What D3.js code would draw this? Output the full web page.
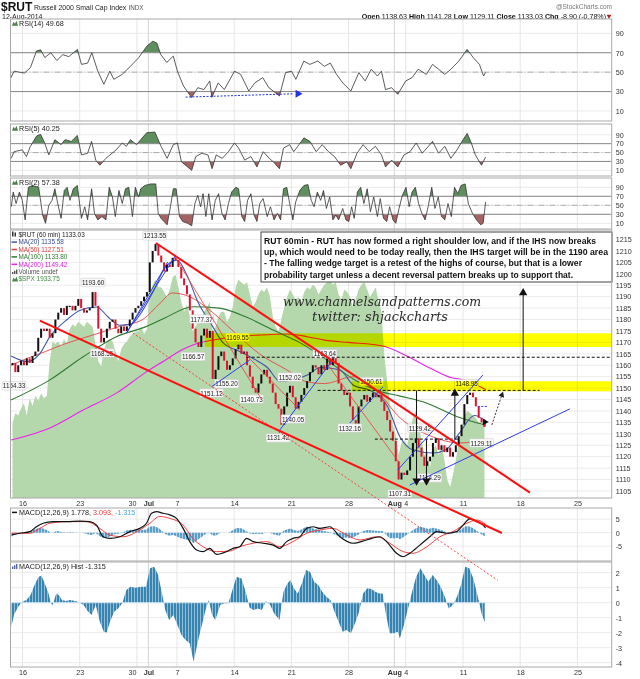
<!DOCTYPE html>
<html>
<head>
<meta charset="utf-8">
<title>$RUT 60 min</title>
<script src="https://d3js.org/d3.v7.min.js"></script>
<style>
  body { margin: 0; background: #fff; }
  svg { display: block; font-family: "Liberation Sans", Arial, sans-serif; }
</style>
</head>
<body>
<div id="chart"></div>
<script>
// ********** DATA **********

// trading sessions, in trading days counted from Mon 16 Jun (Jul 3 is a half day)
const sessionDays = [-1, 0, 1, 2, 3, 4, 5, 6, 7, 8, 9, 10, 11, 12, 13, 13.5, 14.5, 15.5, 16.5, 17.5,
  18.5, 19.5, 20.5, 21.5, 22.5, 23.5, 24.5, 25.5, 26.5, 27.5, 28.5, 29.5, 30.5, 31.5, 32.5, 33.5,
  34.5, 35.5, 36.5, 37.5, 38.5, 39.5];

// $RUT 60 min closes (a few per session)
const rutFirstOpen = 1160;
const rutCloses = [
  [1161, 1157, 1160, 1162], [1160, 1163, 1161, 1164], [1166, 1172, 1176, 1175], [1176, 1172, 1174, 1180],
  [1183, 1185, 1182, 1186], [1186, 1184, 1186, 1189], [1185, 1183, 1184, 1185], [1192, 1186, 1176, 1170],
  [1172, 1176, 1179, 1180], [1176, 1174, 1177, 1175], [1177, 1180, 1183, 1185], [1186, 1188, 1190, 1192],
  [1205, 1210, 1213, 1208], [1205, 1201, 1204, 1203], [1207, 1206], [1203, 1198, 1195, 1191],
  [1184, 1176, 1170, 1168], [1173, 1176, 1172, 1175], [1154, 1158, 1164, 1166], [1162, 1158, 1160, 1163],
  [1167, 1169, 1165, 1166], [1160, 1155, 1150, 1148], [1152, 1156, 1158, 1155], [1152, 1148, 1143, 1141],
  [1134, 1142, 1148, 1151], [1146, 1141, 1144, 1147], [1150, 1153, 1157, 1160], [1159, 1156, 1160, 1158],
  [1163, 1160, 1164, 1161], [1152, 1149, 1147, 1148], [1142, 1136, 1134, 1142], [1145, 1147, 1144, 1146],
  [1148, 1146, 1147, 1144], [1140, 1136, 1131, 1127], [1118, 1110, 1113, 1112], [1114, 1120, 1126, 1128],
  [1124, 1120, 1116, 1118], [1120, 1126, 1128, 1123], [1125, 1122, 1124, 1120], [1122, 1125, 1129, 1134],
  [1143, 1147, 1148, 1146], [1142, 1137, 1135, 1133]
];

// $SPX overlay (green area)
const spxCloses = [
  [1933, 1937, 1936, 1939], [1941, 1936, 1943, 1940], [1944, 1942, 1945, 1943], [1944, 1958, 1966, 1965],
  [1966, 1964, 1967, 1965], [1971, 1973, 1972, 1974], [1973, 1972, 1974, 1973], [1972, 1965, 1958, 1956],
  [1963, 1966, 1967, 1966], [1962, 1958, 1963, 1965], [1966, 1968, 1969, 1970], [1970, 1972, 1969, 1971],
  [1985, 1989, 1991, 1988], [1988, 1986, 1984, 1987], [1992, 1993], [1988, 1982, 1978, 1981],
  [1976, 1970, 1972, 1974], [1974, 1978, 1980, 1982], [1970, 1972, 1976, 1978], [1978, 1974, 1976, 1980],
  [1988, 1991, 1990, 1989], [1990, 1985, 1980, 1982], [1985, 1987, 1986, 1988], [1984, 1976, 1972, 1970],
  [1975, 1980, 1984, 1987], [1985, 1983, 1984, 1982], [1986, 1988, 1987, 1989], [1988, 1985, 1987, 1989],
  [1990, 1991, 1989, 1990], [1985, 1983, 1987, 1986], [1984, 1980, 1983, 1987], [1989, 1990, 1987, 1984],
  [1986, 1988, 1982, 1978], [1960, 1950, 1940, 1932], [1928, 1920, 1925, 1926], [1924, 1930, 1935, 1938],
  [1932, 1926, 1920, 1922], [1915, 1922, 1924, 1920], [1925, 1918, 1910, 1907], [1912, 1918, 1925, 1931],
  [1936, 1938, 1937, 1936], [1935, 1933, 1932, 1934]
];

// moving averages [day, value]
const ma20 = [[-1, 1164], [0.4, 1161.6], [1.5, 1165], [2.4, 1172.5], [3.9, 1180], [5, 1184], [6.5, 1185.5],
  [7.5, 1181], [8.5, 1177.5], [9.5, 1178], [10.5, 1184], [11.5, 1193], [12.5, 1203], [13.5, 1206], [14.5, 1198],
  [15.3, 1188], [16.5, 1178], [17.5, 1170], [19, 1166], [20.5, 1162], [21.4, 1159], [22.5, 1153], [23.6, 1153.6],
  [25, 1156], [26, 1159], [27.7, 1158], [29, 1151], [30.4, 1149], [31.9, 1142], [33, 1128.6], [34.1, 1123],
  [35.9, 1121.6], [37, 1123], [38.2, 1130.4], [39.5, 1138], [40.5, 1135.58]];
const ma50 = [[-1, 1160], [0.4, 1163], [2, 1166], [3.5, 1169], [6, 1173], [8.5, 1177], [10.5, 1180], [12, 1187],
  [13.1, 1191.6], [14.6, 1190], [16.4, 1184], [18.4, 1175], [20.7, 1165], [23.1, 1158], [24.9, 1152.7],
  [26.4, 1152], [28.9, 1155], [30.9, 1149], [33, 1137], [35.9, 1128.6], [38.2, 1126], [40.5, 1127.51]];
const ma100 = [[-1, 1144.8], [2.4, 1153.6], [5.3, 1163.7], [8.2, 1172.5], [10.8, 1176.9], [12.4, 1180.6],
  [14.9, 1185.6], [17.2, 1185], [19.6, 1181], [21.9, 1175.4], [24.2, 1170], [26.4, 1163], [28.9, 1154],
  [31, 1149], [33, 1146.5], [35.3, 1143.5], [38, 1137.5], [40.5, 1133.8]];
const ma200 = [[-1, 1127.3], [2.4, 1132.6], [5.3, 1140.4], [8.2, 1147.8], [10.8, 1157], [12.4, 1162],
  [13.9, 1166.7], [14.9, 1168.9], [17.9, 1172], [20.7, 1173.2], [23.1, 1173.7], [24.9, 1172.5], [26.4, 1171],
  [28.5, 1170], [31.5, 1168.4], [33.6, 1164], [35.6, 1158.8], [37.6, 1154.4], [38.2, 1154], [40.5, 1149.42]];

// RSI series [day, value]
const rsi14 = [[-1.09, 42.6], [-0.73, 51], [0.16, 49], [0.69, 54.6], [1.22, 71.7], [1.58, 73], [1.95, 65],
  [2.47, 70], [3.0, 62], [3.52, 68], [4.05, 66], [4.8, 73.4], [5.15, 58], [5.69, 59.3], [6.06, 70], [6.58, 51],
  [7.11, 37.5], [7.63, 51], [7.98, 42.6], [8.71, 47.7], [9.43, 56], [10.15, 64.8], [10.87, 76.8], [11.39, 81.9],
  [11.74, 80], [12.09, 68], [12.61, 60], [13.18, 66.5], [13.54, 51], [14.07, 35.7], [14.78, 23.8], [15.32, 34],
  [15.85, 32], [16.37, 40.9], [16.55, 24], [17.1, 39], [17.64, 32], [18.53, 51], [19.07, 47.7], [19.78, 30.6],
  [20.31, 39], [21.0, 44.3], [21.53, 34], [22.46, 25.5], [22.99, 49.5], [23.52, 51], [23.89, 42.6], [24.59, 61.4],
  [25.11, 58], [25.81, 61.4], [26.38, 56], [26.91, 59.3], [27.45, 47.7], [27.99, 39], [28.7, 30.6], [29.4, 49.5],
  [29.95, 41], [30.48, 53], [31.02, 46], [31.37, 51], [31.73, 32], [32.26, 34], [32.8, 27.2], [33.5, 41],
  [34.05, 44.3], [34.59, 53], [35.3, 47.7], [35.84, 58], [36.37, 53], [36.91, 47.7], [37.44, 53], [38.14, 61.4],
  [38.86, 73.4], [39.41, 64.8], [39.94, 58], [40.3, 46], [40.47, 49.68]];
const rsi5 = [[-0.985, 37], [-0.735, 52], [-0.02, 56], [0.34, 41], [0.69, 64], [1.23, 87], [1.58, 91],
  [1.94, 71.5], [2.30, 44.6], [2.83, 79], [3.37, 67.7], [3.72, 79], [4.26, 75], [4.79, 88.5], [5.15, 44.6],
  [5.69, 48.5], [6.04, 75], [6.40, 33], [6.76, 21.5], [7.29, 37], [7.83, 48.5], [8.18, 56], [8.72, 71.5],
  [9.08, 64], [9.43, 79], [9.97, 67.7], [10.33, 79], [10.86, 94.6], [11.57, 96], [12.11, 64], [12.64, 37],
  [13.18, 67.7], [13.54, 71.5], [13.89, 29.2], [14.43, 17.7], [14.79, 10], [15.14, 40.8], [15.68, 48.5],
  [16.21, 44.6], [16.57, 13.8], [16.93, 44.6], [17.46, 37], [18.0, 52], [18.53, 71.5], [18.89, 60], [19.42, 33],
  [19.96, 41], [20.49, 17.7], [21.03, 52], [21.57, 37], [21.92, 29.2], [22.46, 13.8], [22.81, 60], [23.35, 67.7],
  [23.71, 52], [24.06, 64], [24.6, 83], [25.13, 75], [25.67, 52], [26.2, 67.7], [26.74, 52], [27.27, 41],
  [27.81, 21.5], [28.34, 29.2], [28.7, 13.8], [29.24, 48.5], [29.77, 67.7], [30.31, 52], [30.84, 64],
  [31.38, 44.6], [31.73, 17.7], [32.27, 33], [32.8, 17.7], [33.34, 44.6], [33.87, 52], [34.41, 71.5],
  [34.94, 48.5], [35.48, 64], [35.84, 75], [36.37, 48.5], [36.91, 64], [37.44, 37], [37.98, 56], [38.51, 79],
  [38.87, 93], [39.23, 71.5], [39.58, 44.6], [40.12, 21.5], [40.48, 40.25]];
const rsi2 = [[-0.985, 46.7], [-0.81, 79.5], [-0.56, 54], [-0.27, 79.5], [-0.02, 61], [0.23, 17.6], [0.51, 90],
  [0.87, 94], [1.41, 90], [1.76, 28.5], [2.01, 10], [2.30, 50], [2.58, 61], [2.83, 86.7], [3.08, 54], [3.37, 21],
  [3.65, 83], [3.90, 90], [4.15, 61], [4.44, 86.7], [4.79, 94], [5.15, 21], [5.44, 46.7], [5.69, 17.6],
  [6.04, 86.7], [6.29, 32], [6.58, 17.6], [6.94, 25], [7.29, 17.6], [7.58, 90], [7.86, 68.5], [8.11, 25],
  [8.43, 83], [8.72, 54], [9.0, 86.7], [9.29, 90], [9.61, 25], [9.86, 90], [10.15, 68.5], [10.33, 86.7],
  [10.68, 94], [11.22, 97.5], [11.65, 97.5], [11.86, 32], [12.11, 21], [12.64, 6.7], [12.93, 46.7], [13.18, 86.7],
  [13.43, 86.7], [13.72, 25], [14.0, 14], [14.43, 10], [14.79, 4.5], [15.07, 54], [15.32, 72], [15.57, 46.7],
  [15.78, 75.8], [16.03, 25], [16.28, 75.8], [16.57, 17.6], [16.85, 61], [17.14, 75.8], [17.43, 32], [17.71, 17.6],
  [18.0, 54], [18.28, 79.5], [18.64, 90], [18.89, 86.7], [19.17, 25], [19.42, 14], [19.67, 61], [19.96, 75.8],
  [20.24, 28.5], [20.49, 14], [20.74, 54], [21.03, 65], [21.39, 25], [21.67, 46.7], [21.99, 17.6], [22.28, 32],
  [22.56, 17.6], [22.81, 86.7], [23.10, 90], [23.35, 54], [23.63, 17.6], [23.88, 57.6], [24.24, 83], [24.6, 94],
  [24.95, 96], [25.24, 61], [25.49, 46.7], [25.77, 79.5], [26.06, 61], [26.31, 83], [26.56, 43], [26.85, 68.5],
  [27.13, 17.6], [27.38, 28.5], [27.63, 17.6], [27.99, 43], [28.27, 17.6], [28.52, 14], [28.77, 46.7], [28.99, 21],
  [29.27, 79.5], [29.56, 90], [29.84, 54], [30.13, 86.7], [30.41, 36], [30.70, 68.5], [31.02, 25], [31.27, 65],
  [31.55, 21], [31.84, 14], [32.09, 46.7], [32.38, 17.6], [32.63, 10], [32.91, 43], [33.20, 72], [33.52, 90],
  [33.80, 46.7], [34.05, 79.5], [34.34, 90], [34.62, 54], [34.91, 32], [35.19, 17.6], [35.48, 50], [35.77, 90],
  [36.05, 43], [36.34, 68.5], [36.62, 25], [36.91, 17.6], [37.19, 54], [37.48, 25], [37.76, 90], [38.05, 75.8],
  [38.33, 94], [38.69, 97.5], [38.98, 52.5], [39.33, 32], [39.69, 17.6], [40.05, 6.7], [40.26, 10], [40.48, 57.38]];

// MACD(12,26,9) [day, value]
const macdLine = [[-0.96, -0.85], [-0.24, -0.2], [0.64, 0.4], [1.22, 2.2], [1.8, 3.5], [2.67, 4.1], [3.85, 4.1],
  [5.01, 4.3], [5.88, 4.1], [6.47, 2.8], [7.05, -1.5], [7.63, -2.1], [8.51, -1.5], [9.38, 0.4], [10.25, 1.6],
  [10.84, 3.5], [11.28, 7.2], [11.71, 7.8], [12.29, 7.2], [12.88, 6.6], [13.46, 5.3], [14.04, 1.6], [14.62, -3.3],
  [15.21, -6.4], [15.79, -7.0], [16.37, -5.8], [16.96, -8.0], [17.83, -7.0], [18.41, -5.8], [18.99, -5.2],
  [19.58, -2.1], [20.16, -3.3], [21.03, -3.9], [21.91, -4.6], [22.49, -5.8], [23.08, -3.3], [23.65, -2.1],
  [24.24, -1.5], [24.83, 1.6], [25.40, 2.2], [25.99, 1.6], [26.86, 2.2], [27.74, -1.5], [28.9, -3.9], [30.07, -2.7],
  [31.23, -1.5], [31.82, -3.3], [32.69, -7.6], [33.27, -8.9], [33.85, -7.6], [34.73, -4.6], [35.6, -1.5],
  [36.19, 0.4], [37.06, -0.2], [37.94, 0.4], [38.51, 2.8], [39.1, 5.1], [39.69, 4.3], [40.26, 2.8], [40.47, 1.778]];
const macdSignal = [[-0.96, -0.2], [0.64, -0.2], [1.51, 1.6], [2.39, 3.5], [3.85, 4.1], [5.59, 4.1], [6.76, 1.6],
  [7.63, -0.9], [8.77, -1.5], [10.25, 1.0], [11.13, 3.5], [12.0, 6.0], [12.88, 5.3], [14.04, 2.8], [14.89, -2.1],
  [15.79, -5.2], [16.98, -7.0], [18.12, -6.8], [18.99, -5.2], [20.16, -3.9], [21.36, -3.3], [22.49, -5.2],
  [23.65, -3.3], [24.85, -0.2], [25.99, 1.0], [27.12, 1.6], [28.35, -0.9], [29.48, -2.7], [30.97, -1.5],
  [32.1, -3.9], [33.27, -7.0], [34.12, -7.6], [35.34, -5.2], [36.48, -1.5], [37.61, 0.4], [38.84, 3.5],
  [39.71, 4.7], [40.5, 3.093]];
const macdHist = [[-0.98, -1.6], [-0.74, -0.8], [-0.38, -0.27], [-0.02, 0.07], [0.34, 0.18], [0.69, 0.5],
  [1.05, 1.18], [1.41, 1.73], [1.66, 1.8], [1.94, 1.29], [2.23, 0.73], [2.48, -0.04], [2.65, -0.15], [2.94, 0.62],
  [3.19, 0.5], [3.44, 0.18], [3.80, 0.11], [4.15, 0.18], [4.62, 0.11], [4.97, 0.02], [5.33, -0.15], [5.69, -0.55],
  [6.04, -0.82], [6.40, -0.15], [6.76, -1.27], [7.11, -1.93], [7.36, -1.98], [7.65, -1.27], [8.01, -0.6],
  [8.36, -0.38], [8.72, -0.04], [9.08, 0.84], [9.43, 1.07], [9.86, 1.0], [10.33, 1.07], [10.79, 1.07],
  [11.15, 2.29], [11.50, 2.4], [11.86, 1.84], [12.22, 0.51], [12.47, -0.49], [12.82, -1.16], [13.18, -0.82],
  [13.54, -1.49], [13.89, -2.16], [14.25, -2.49], [14.61, -2.71], [14.96, -3.93], [15.32, -2.6], [15.68, -1.49],
  [16.03, -0.38], [16.28, 0.18], [16.57, -0.82], [16.85, -1.16], [17.28, -0.15], [17.64, -0.04], [18.0, -0.04],
  [18.35, 0.84], [18.71, 1.73], [19.14, 1.62], [19.50, 0.73], [19.85, -0.33], [20.21, -0.49], [20.57, -0.38],
  [20.92, -0.49], [21.28, 0.11], [21.64, -0.15], [21.99, -0.71], [22.46, -1.16], [22.81, 0.73], [23.17, 1.29],
  [23.42, 1.51], [23.71, 0.96], [24.06, 0.62], [24.42, 1.29], [24.78, 2.18], [25.13, 2.07], [25.49, 1.4],
  [25.85, 1.18], [26.20, 0.73], [26.56, 0.4], [26.92, 0.18], [27.27, -0.6], [27.63, -1.27], [27.99, -1.93],
  [28.34, -1.82], [28.7, -2.04], [29.06, -1.38], [29.42, -0.6], [29.77, 0.62], [30.13, 0.96], [30.48, 0.91],
  [30.84, 0.73], [31.2, 0.62], [31.48, 0.62], [31.73, -0.6], [32.09, -2.04], [32.45, -2.04], [32.8, -1.93],
  [32.98, -2.38], [33.34, -1.49], [33.70, -0.38], [34.05, 0.73], [34.41, 1.73], [34.77, 2.29], [35.12, 1.84],
  [35.48, 1.4], [35.84, 1.84], [36.19, 1.51], [36.55, 1.07], [36.91, 0.4], [37.26, -0.38], [37.62, -0.15],
  [37.98, 0.4], [38.33, 1.18], [38.69, 2.4], [39.05, 2.29], [39.40, 1.62], [39.76, 0.51], [40.12, -0.71],
  [40.40, -1.315]];

// date axis
const dateTickDays = [0, 5, 10, 11, 13.5, 18.5, 23.5, 28.5, 32.5, 33.5, 38.5, 43.5, 48.5];
const dateTickLabels = ['16', '23', '30', 'Jul', '7', '14', '21', '28', 'Aug', '4', '11', '18', '25'];

// value axes
const priceTicks = d3.range(1105, 1216, 5);
const rsiTicks = [90, 70, 50, 30, 10];
const macdTicks = [5, 0, -5];
const histTicks = [2, 1, 0, -1, -2, -3, -4];

// high / low call-outs [text, day, price where the tag sits]
const priceTags = [['1213.55', 11.56, 1216.5], ['1193.60', 6.17, 1196.1], ['1168.55', 6.96, 1165.2],
  ['1154.33', -0.76, 1150.9], ['1177.37', 15.65, 1180.1], ['1169.55', 18.79, 1172.1], ['1166.57', 14.91, 1163.7],
  ['1163.64', 26.43, 1164.9], ['1151.12', 16.52, 1147.7], ['1155.20', 17.83, 1151.8], ['1140.73', 20.02, 1145.1],
  ['1152.02', 23.37, 1154.7], ['1131.42', 22.34, 1128.1], ['1140.05', 23.65, 1136.4], ['1150.61', 30.5, 1152.8],
  ['1132.16', 28.61, 1132.4], ['1148.95', 38.81, 1151.8], ['1129.42', 34.73, 1132.4], ['1114.29', 35.6, 1110.6],
  ['1107.31', 32.98, 1103.6], ['1129.11', 40.12, 1125.9]];

// annotations drawn on the price panel [day, price]
const targetZones = [[15.93, 1168, 1174], [28.8, 1148.6, 1153]];          // [from day, low, high]
const levelLines = [[19.6, 51.5, 1163.5], [25.8, 45.2, 1149], [30.8, 38.2, 1127.7]]; // [from, to, price]
const blueLevel = [[39.8, 1142], [40.6, 1142]];
const wedgeLines = [
  [[11.65, 1213.5], [44.35, 1104.3]],
  [[1.51, 1179.5], [41.9, 1086.6]]
];
const channelLine = [[9.63, 1174.1], [41.55, 1065.9]];
const thinRedLines = [
  [[13.31, 1207.6], [20.92, 1144.8]],
  [[18.71, 1168.8], [24.24, 1140.4]],
  [[26.57, 1161], [32.98, 1117]]
];
const blueLines = [
  [[9.09, 1174.1], [13.4, 1208.2]],
  [[9.09, 1174.1], [12.7, 1205.2]],
  [[16.52, 1150.6], [19.87, 1162.3]],
  [[22.49, 1131.7], [27.12, 1162.3]],
  [[28.61, 1134.7], [31.5, 1150.5]],
  [[32.8, 1114.2], [40.24, 1155.7]],
  [[33.85, 1107.6], [47.84, 1140.9]]
];
const measuredMoves = [[34.44, 1149, 1108.5], [35.31, 1127.7, 1108.5], [37.79, 1127.7, 1149], [43.76, 1149, 1193]];
const projectionArrow = [[41.02, 1133.9], [41.9, 1147]];
const rsiDivergence = [[14.25, 24.3], [24.07, 27.7]];

const noteLines = [
  'RUT 60min - RUT has now formed a right shoulder low, and if the IHS now breaks',
  'up, which would need to be today really, then the IHS target will be in the 1190 area',
  '- The falling wedge target is a retest of the highs of course, but that is a lower',
  'probability target unless a decent reversal pattern breaks up to support that.'
];

// ********** LAYOUT **********
const W = 640, H = 679;
const plotL = 10.5, plotR = 611.7;
const FONT = '"Liberation Sans", Arial, sans-serif';

const layout = [
  {key: 'rsi14', top: 19, bottom: 121, domain: [0, 100], range: [120.7, 23.6]},
  {key: 'rsi5', top: 124, bottom: 176, domain: [0, 100], range: [174.8, 130.3]},
  {key: 'rsi2', top: 178, bottom: 229, domain: [0, 100], range: [227.8, 182.8]},
  {key: 'main', top: 230, bottom: 498, domain: [1100, 1220], range: [502.4, 228.1]},
  {key: 'macd', top: 508, bottom: 561, domain: [-10, 10], range: [559.7, 505.7]},
  {key: 'hist', top: 562, bottom: 667, domain: [-4.3, 2.7], range: [667.2, 562.2]}
];
const panel = {};
layout.forEach(p => { panel[p.key] = p; p.y = d3.scaleLinear().domain(p.domain).range(p.range); });

const x = d3.scaleLinear().domain([-1.05, 51.5]).range([plotL, plotR]);
const yP = panel.main.y;
const ySpx = d3.scaleLinear().domain([1900, 2000]).range([504.5, 257.5]);

const svg = d3.select('#chart').append('svg').attr('width', W).attr('height', H)
  .attr('font-family', FONT);
const defs = svg.append('defs');

layout.forEach(p => {
  defs.append('clipPath').attr('id', `clip-${p.key}`).append('rect')
    .attr('x', plotL).attr('y', p.top).attr('width', plotR - plotL).attr('height', p.bottom - p.top);
});

// striped fill that mimics the dense histogram bars
const stripe = (id, bar, gap) => {
  const pat = defs.append('pattern').attr('id', id).attr('patternUnits', 'userSpaceOnUse')
    .attr('width', 3).attr('height', 6);
  pat.append('rect').attr('width', 3).attr('height', 6).attr('fill', gap);
  pat.append('rect').attr('width', 2.2).attr('height', 6).attr('fill', bar);
};
stripe('histFill', '#3884b0', '#a9cde2');
stripe('macdHistFill', '#5b9ec7', '#c8e0ee');

// flatten sessions into bars
const toBars = (rows, firstOpen) => {
  const out = [];
  let prev = firstOpen;
  sessionDays.forEach((start, i) => {
    const end = i < sessionDays.length - 1 ? sessionDays[i + 1] : start + 1;
    rows[i].forEach((c, j) => {
      out.push({day: start + (end - start) * (j + 0.5) / rows[i].length, open: prev, close: c});
      prev = c;
    });
  });
  return out;
};
const rutBars = toBars(rutCloses, rutFirstOpen);
const spxBars = toBars(spxCloses, spxCloses[0][0]);

// ********** PANEL FRAMES **********
const drawFrame = (p, hTicks) => {
  const g = svg.append('g');
  g.append('rect').attr('x', plotL).attr('y', p.top).attr('width', plotR - plotL).attr('height', p.bottom - p.top)
    .attr('fill', '#fff');
  g.selectAll('line.h').data(hTicks).enter().append('line')
    .attr('x1', plotL).attr('x2', plotR).attr('y1', d => p.y(d)).attr('y2', d => p.y(d))
    .attr('stroke', '#ececec').attr('stroke-width', 1);
  g.selectAll('line.v').data(dateTickDays).enter().append('line')
    .attr('x1', d => x(d)).attr('x2', d => x(d)).attr('y1', p.top).attr('y2', p.bottom)
    .attr('stroke', (d, i) => (dateTickLabels[i] === 'Jul' || dateTickLabels[i] === 'Aug') ? '#d4d4d4' : '#e6e6e6')
    .attr('stroke-width', 1);
  const ax = svg.append('g').attr('transform', `translate(${plotR},0)`)
    .call(d3.axisRight(p.y).tickValues(hTicks).tickSize(0).tickPadding(4).tickFormat(d => String(d)));
  ax.select('.domain').remove();
  ax.attr('font-family', FONT).attr('font-size', 7.2);
  ax.selectAll('text').attr('fill', '#333');
  return g;
};

const drawBorder = p => {
  svg.append('rect').attr('x', plotL).attr('y', p.top).attr('width', plotR - plotL).attr('height', p.bottom - p.top)
    .attr('fill', 'none').attr('stroke', '#a9a9a9').attr('stroke-width', 1);
};

// ********** HEADER **********
const header = svg.append('g');
header.append('text').attr('x', 1).attr('y', 11).attr('font-size', 12).attr('font-weight', 'bold')
  .attr('fill', '#111').text('$RUT');
header.append('text').attr('x', 34).attr('y', 9.5).attr('font-size', 6.9).attr('fill', '#222')
  .text('Russell 2000 Small Cap Index');
header.append('text').attr('x', 128.5).attr('y', 9.5).attr('font-size', 6.3).attr('fill', '#555').text('INDX');
header.append('text').attr('x', 2).attr('y', 18.5).attr('font-size', 7).attr('fill', '#222').text('12-Aug-2014');
header.append('text').attr('x', 612).attr('y', 9).attr('text-anchor', 'end').attr('font-size', 6.5)
  .attr('fill', '#777').text('@StockCharts.com');
const ohlc = header.append('text').attr('x', 606).attr('y', 18.5).attr('text-anchor', 'end')
  .attr('font-size', 7.1).attr('fill', '#111');
[['Open', ' 1138.63  '], ['High', ' 1141.28  '], ['Low', ' 1129.11  '], ['Close', ' 1133.03  '],
  ['Chg', ' -8.90 (-0.78%)']].forEach(([k, v]) => {
  ohlc.append('tspan').attr('font-weight', 'bold').text(k);
  ohlc.append('tspan').text(v);
});
header.append('path').attr('d', d3.symbol(d3.symbolTriangle, 10)())
  .attr('transform', 'translate(609,16.2) rotate(180)').attr('fill', '#b22');

// ********** RSI PANELS **********
const rsiIcon = (xPos, yPos) => {
  svg.append('path').attr('d', `M${xPos},${yPos} l1.5,-4 l1.5,2 l1.5,-3 l1.5,5 z`).attr('fill', '#4d7f4d');
};

const drawRsi = (key, data, title) => {
  const p = panel[key];
  const y = p.y;
  drawFrame(p, rsiTicks);
  const g = svg.append('g').attr('clip-path', `url(#clip-${key})`);

  defs.append('clipPath').attr('id', `${key}-over`).append('rect')
    .attr('x', plotL).attr('y', p.top).attr('width', plotR - plotL).attr('height', y(70) - p.top);
  defs.append('clipPath').attr('id', `${key}-under`).append('rect')
    .attr('x', plotL).attr('y', y(30)).attr('width', plotR - plotL).attr('height', p.bottom - y(30));

  g.append('path').datum(data)
    .attr('d', d3.area().x(d => x(d[0])).y0(y(70)).y1(d => y(d[1])))
    .attr('clip-path', `url(#${key}-over)`).attr('fill', '#5f8f5f');
  g.append('path').datum(data)
    .attr('d', d3.area().x(d => x(d[0])).y0(y(30)).y1(d => y(d[1])))
    .attr('clip-path', `url(#${key}-under)`).attr('fill', '#a66262');

  [70, 30].forEach(v => {
    g.append('line').attr('x1', plotL).attr('x2', plotR).attr('y1', y(v)).attr('y2', y(v))
      .attr('stroke', '#8a8a8a').attr('stroke-width', 1);
  });
  g.append('line').attr('x1', plotL).attr('x2', plotR).attr('y1', y(50)).attr('y2', y(50))
    .attr('stroke', '#9a9a9a').attr('stroke-width', 0.8).attr('stroke-dasharray', '6,2,1,2');

  g.append('path').datum(data)
    .attr('d', d3.line().x(d => x(d[0])).y(d => y(d[1])))
    .attr('fill', 'none').attr('stroke', '#333').attr('stroke-width', 0.8);

  drawBorder(p);
  rsiIcon(12, p.top + 6.8);
  svg.append('text').attr('x', 19).attr('y', p.top + 6.8).attr('font-size', 7.2).attr('fill', '#222').text(title);
};

drawRsi('rsi14', rsi14, 'RSI(14) 49.68');
drawRsi('rsi5', rsi5, 'RSI(5) 40.25');
drawRsi('rsi2', rsi2, 'RSI(2) 57.38');

// divergence arrow on RSI(14)
const yR = panel.rsi14.y;
svg.append('line')
  .attr('x1', x(rsiDivergence[0][0])).attr('y1', yR(rsiDivergence[0][1]))
  .attr('x2', x(rsiDivergence[1][0]) - 4).attr('y2', yR(rsiDivergence[1][1]))
  .attr('stroke', '#2233ee').attr('stroke-width', 1).attr('stroke-dasharray', '2,1.5');
svg.append('path').attr('d', d3.symbol(d3.symbolTriangle, 28)())
  .attr('transform', `translate(${x(rsiDivergence[1][0])},${yR(rsiDivergence[1][1])}) rotate(90)`)
  .attr('fill', '#2233ee');

// ********** PRICE PANEL **********
const main = panel.main;
drawFrame(main, priceTicks);
const mg = svg.append('g').attr('clip-path', 'url(#clip-main)');

// $SPX overlay
mg.append('path').datum(spxBars)
  .attr('d', d3.area().x(d => x(d.day)).y0(main.bottom).y1(d => ySpx(d.close)))
  .attr('fill', '#b4d7ab');

// moving averages
const maLine = d3.line().x(d => x(d[0])).y(d => yP(d[1])).curve(d3.curveMonotoneX);
[[ma200, '#ee22ee', 1.1], [ma100, '#2f7a30', 1.1], [ma50, '#e64545', 0.9], [ma20, '#4258a8', 1.1]]
  .forEach(([data, color, w]) => {
    mg.append('path').datum(data).attr('d', maLine).attr('fill', 'none')
      .attr('stroke', color).attr('stroke-width', w);
  });

// candles
mg.selectAll('rect.candle').data(rutBars).enter().append('rect')
  .attr('class', 'candle')
  .attr('x', d => x(d.day) - 1)
  .attr('width', 2)
  .attr('y', d => yP(Math.max(d.open, d.close)))
  .attr('height', d => Math.max(1.2, Math.abs(yP(d.open) - yP(d.close))))
  .attr('fill', d => d.close < d.open ? '#e0122f' : '#111');

// high / low tags (not clipped, the first one hangs over the left edge)
const tagLayer = svg.append('g');
const tags = tagLayer.selectAll('g.tag').data(priceTags).enter().append('g')
  .attr('transform', d => `translate(${Math.max(14, x(d[1]))},${yP(d[2])})`);
tags.append('rect').attr('x', -12).attr('y', -4.5).attr('width', 24).attr('height', 8.5)
  .attr('fill', '#fafafa').attr('stroke', '#c4c4c4').attr('stroke-width', 0.5).attr('rx', 1);
tags.append('text').attr('text-anchor', 'middle').attr('y', 2.3).attr('font-size', 6.3)
  .attr('fill', '#222').text(d => d[0]);

// watermark
const wm = svg.append('g');
wm.append('text').attr('x', 283).attr('y', 306).attr('font-family', '"DejaVu Serif", serif')
  .attr('font-style', 'italic').attr('font-size', 13).attr('fill', '#2b2b2b')
  .attr('textLength', 198).attr('lengthAdjust', 'spacingAndGlyphs').text('www.channelsandpatterns.com');
wm.append('text').attr('x', 312).attr('y', 321).attr('font-family', '"DejaVu Serif", serif')
  .attr('font-style', 'italic').attr('font-size', 13).attr('fill', '#2b2b2b')
  .attr('textLength', 136).attr('lengthAdjust', 'spacingAndGlyphs').text('twitter: shjackcharts');

// target zones, multiplied over whatever lies below them
const zoneLayer = svg.append('g').attr('clip-path', 'url(#clip-main)').style('mix-blend-mode', 'multiply');
zoneLayer.selectAll('rect.zone').data(targetZones).enter().append('rect')
  .attr('x', d => x(d[0])).attr('width', d => plotR - x(d[0]))
  .attr('y', d => yP(d[2])).attr('height', d => yP(d[1]) - yP(d[2]))
  .attr('fill', '#ffff00');

const mg2 = svg.append('g').attr('clip-path', 'url(#clip-main)');

// level lines
mg2.selectAll('line.level').data(levelLines).enter().append('line')
  .attr('x1', d => x(d[0])).attr('x2', d => x(d[1])).attr('y1', d => yP(d[2])).attr('y2', d => yP(d[2]))
  .attr('stroke', '#111').attr('stroke-width', 1).attr('stroke-dasharray', '3,2');
mg2.append('line')
  .attr('x1', x(blueLevel[0][0])).attr('x2', x(blueLevel[1][0]))
  .attr('y1', yP(blueLevel[0][1])).attr('y2', yP(blueLevel[1][1]))
  .attr('stroke', '#2233ee').attr('stroke-width', 1).attr('stroke-dasharray', '2,1.5');

// trend lines inside the price panel
const seg = d3.line().x(d => x(d[0])).y(d => yP(d[1]));
thinRedLines.forEach(l => {
  mg2.append('path').datum(l).attr('d', seg).attr('stroke', '#f03a3a').attr('stroke-width', 0.8).attr('fill', 'none');
});
blueLines.forEach(l => {
  mg2.append('path').datum(l).attr('d', seg).attr('stroke', '#2f3df0').attr('stroke-width', 1).attr('fill', 'none');
});

// measured move arrows
const arrow = (g, px, py, angle, size, color) => {
  g.append('path').attr('d', d3.symbol(d3.symbolTriangle, size)())
    .attr('transform', `translate(${px},${py}) rotate(${angle})`).attr('fill', color);
};
measuredMoves.forEach(([day, from, to]) => {
  const down = to < from;
  mg2.append('line').attr('x1', x(day)).attr('x2', x(day)).attr('y1', yP(from)).attr('y2', yP(to) + (down ? -3 : 3))
    .attr('stroke', '#111').attr('stroke-width', 1);
  arrow(mg2, x(day), yP(to) + (down ? -2 : 3), down ? 180 : 0, 30, '#111');
});
mg2.append('path').datum(projectionArrow).attr('d', seg).attr('stroke', '#222').attr('stroke-width', 0.9)
  .attr('fill', 'none').attr('stroke-dasharray', '2,1.5');
arrow(mg2, x(projectionArrow[1][0]), yP(projectionArrow[1][1]), 20, 16, '#222');
arrow(mg2, x(40.41), yP(1135.2), 90, 20, '#111');

// annotation box
const note = svg.append('g');
note.append('rect').attr('x', 261).attr('y', 232).attr('width', 351).attr('height', 50)
  .attr('fill', '#fff').attr('stroke', '#444').attr('stroke-width', 1);
const noteWidths = [332, 344, 318, 309];
note.selectAll('text').data(noteLines).enter().append('text')
  .attr('x', 264).attr('y', (d, i) => 243.8 + i * 11.3)
  .attr('font-size', 8.6).attr('font-weight', 'bold').attr('fill', '#111')
  .attr('textLength', (d, i) => noteWidths[i]).attr('lengthAdjust', 'spacingAndGlyphs')
  .text(d => d);

// legend
const legend = [
  ['$RUT (60 min) 1133.03', '#222', 'candle'],
  ['MA(20) 1135.58', '#3d4f95', '#4258a8'],
  ['MA(50) 1127.51', '#e03c3c', '#e64545'],
  ['MA(100) 1133.80', '#2f7a30', '#2f7a30'],
  ['MA(200) 1149.42', '#e020e0', '#ee22ee'],
  ['Volume undef', '#555', 'bars'],
  ['$SPX 1933.75', '#3f8a3f', 'area']
];
const lg = svg.append('g');
legend.forEach(([text, color, icon], i) => {
  const ly = 237 + i * 7.4;
  if (icon === 'candle') {
    lg.append('rect').attr('x', 12).attr('y', ly - 5.5).attr('width', 1.5).attr('height', 5).attr('fill', '#333');
    lg.append('rect').attr('x', 14.5).attr('y', ly - 4.5).attr('width', 1.5).attr('height', 4).attr('fill', '#333');
  } else if (icon === 'bars') {
    [0, 2, 4].forEach((o, k) => lg.append('rect').attr('x', 12 + o).attr('y', ly - 2 - k * 1.2)
      .attr('width', 1.4).attr('height', 2 + k * 1.2).attr('fill', '#555'));
  } else if (icon === 'area') {
    lg.append('path').attr('d', `M12,${ly} l1.5,-4 l1.5,2 l1.5,-3 l1.5,5 z`).attr('fill', '#4d8a4d');
  } else {
    lg.append('line').attr('x1', 11.5).attr('x2', 17).attr('y1', ly - 2.3).attr('y2', ly - 2.3)
      .attr('stroke', icon).attr('stroke-width', 1.5);
  }
  lg.append('text').attr('x', 18.5).attr('y', ly).attr('font-size', 6.4).attr('fill', color).text(text);
});
drawBorder(main);

// ********** MACD PANELS **********
const macd = panel.macd;
drawFrame(macd, macdTicks);
const cg = svg.append('g').attr('clip-path', 'url(#clip-macd)');
cg.append('path').datum(macdHist)
  .attr('d', d3.area().x(d => x(d[0])).y0(macd.y(0)).y1(d => macd.y(d[1])))
  .attr('fill', 'url(#macdHistFill)');
cg.append('path').datum(macdSignal)
  .attr('d', d3.line().x(d => x(d[0])).y(d => macd.y(d[1])).curve(d3.curveMonotoneX))
  .attr('fill', 'none').attr('stroke', '#f04040').attr('stroke-width', 1);
cg.append('path').datum(macdLine)
  .attr('d', d3.line().x(d => x(d[0])).y(d => macd.y(d[1])).curve(d3.curveMonotoneX))
  .attr('fill', 'none').attr('stroke', '#111').attr('stroke-width', 1.2);
drawBorder(macd);
svg.append('line').attr('x1', 12).attr('x2', 17).attr('y1', macd.top + 4.4).attr('y2', macd.top + 4.4)
  .attr('stroke', '#111').attr('stroke-width', 1.5);
const macdTitle = svg.append('text').attr('x', 19).attr('y', macd.top + 6.8).attr('font-size', 7.2);
macdTitle.append('tspan').attr('fill', '#222').text('MACD(12,26,9) 1.778, ');
macdTitle.append('tspan').attr('fill', '#ee3333').text('3.093, ');
macdTitle.append('tspan').attr('fill', '#4aa6d6').text('-1.315');

const hist = panel.hist;
drawFrame(hist, histTicks);
const hg = svg.append('g').attr('clip-path', 'url(#clip-hist)');
hg.append('path').datum(macdHist)
  .attr('d', d3.area().x(d => x(d[0])).y0(hist.y(0)).y1(d => hist.y(d[1])))
  .attr('fill', 'url(#histFill)');
hg.append('line').attr('x1', plotL).attr('x2', x(40.5)).attr('y1', hist.y(0)).attr('y2', hist.y(0))
  .attr('stroke', '#cfe3ef').attr('stroke-width', 1);
drawBorder(hist);
[0, 2, 4].forEach((o, k) => svg.append('rect').attr('x', 12 + o).attr('y', hist.top + 4.5 - k * 1.3)
  .attr('width', 1.4).attr('height', 2.5 + k * 1.3).attr('fill', '#5566aa'));
svg.append('text').attr('x', 19).attr('y', hist.top + 6.8).attr('font-size', 7.2).attr('fill', '#222')
  .text('MACD(12,26,9) Hist -1.315');

// ********** CROSS-PANEL TREND LINES **********
const over = svg.append('g');
wedgeLines.forEach(l => {
  over.append('path').datum(l).attr('d', seg).attr('stroke', '#ff1010').attr('stroke-width', 2).attr('fill', 'none');
});
over.append('path').datum(channelLine).attr('d', seg).attr('stroke', '#ff3030').attr('stroke-width', 0.9)
  .attr('fill', 'none').attr('stroke-dasharray', '2,2');

// ********** DATE AXES **********
const dateAxis = yPos => {
  const ax = svg.append('g').attr('transform', `translate(0,${yPos})`)
    .call(d3.axisBottom(x).tickValues(dateTickDays).tickSize(0).tickPadding(3)
      .tickFormat((d, i) => dateTickLabels[i]));
  ax.select('.domain').remove();
  ax.attr('font-family', FONT).attr('font-size', 7.2);
  ax.selectAll('text').attr('fill', '#333')
    .attr('font-weight', (d, i) => (dateTickLabels[i] === 'Jul' || dateTickLabels[i] === 'Aug') ? 'bold' : 'normal')
    .attr('dx', (d, i) => dateTickLabels[i] === '30' ? -5 : 0);
};
dateAxis(497.5);
dateAxis(667);
</script>
</body>
</html>
